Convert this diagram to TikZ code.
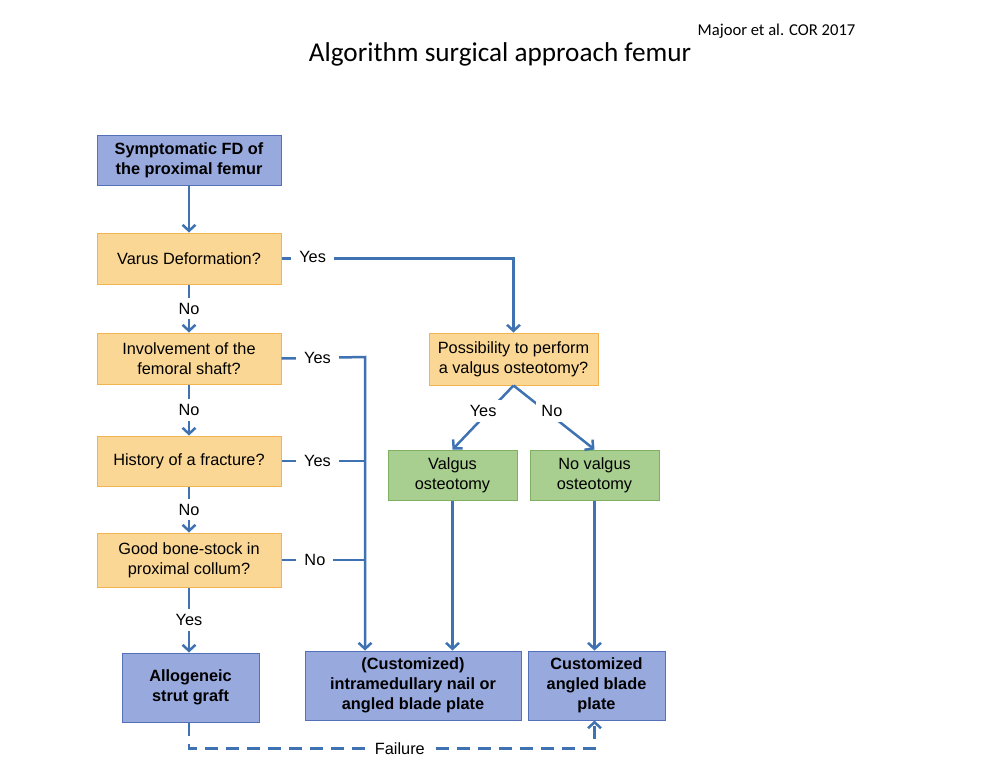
\documentclass[tikz,border=0pt]{standalone}
\usepackage{fontspec}
\setmainfont{Liberation Sans}
\newfontfamily\titlefont{Carlito}
\usetikzlibrary{arrows.meta}
\usetikzlibrary{calc}

\definecolor{flowblue}{HTML}{3F72B3}
\definecolor{endfill}{HTML}{98A9DE}
\definecolor{endline}{HTML}{5470B8}
\definecolor{askfill}{HTML}{FAD794}
\definecolor{askline}{HTML}{F2B451}
\definecolor{optfill}{HTML}{A9CF90}
\definecolor{optline}{HTML}{7FB061}

\begin{document}
\begin{tikzpicture}[x=1pt,y=-1pt,
  every node/.style={font=\fontsize{16.3}{20}\selectfont},
  box/.style={draw,line width=1pt,align=center,inner sep=0pt},
  endbox/.style={box,fill=endfill,draw=endline,font=\bfseries\fontsize{16.3}{20}\selectfont},
  askbox/.style={box,fill=askfill,draw=askline},
  optbox/.style={box,fill=optfill,draw=optline},
  flow/.style={draw=flowblue,line width=2.5pt,-{Straight Barb[length=6pt,width=13pt]}},
  link/.style={draw=flowblue,line width=2.5pt},
  lbl/.style={fill=white,inner xsep=8pt,inner ysep=5pt}]

\useasboundingbox (0,0) rectangle (1000,777);

% titles
\node[font=\titlefont\fontsize{27.2}{32}\selectfont] (title) at (500,54) {Algorithm surgical approach femur};
\node[font=\titlefont\fontsize{16.6}{20}\selectfont] (cite) at (776.5,31) {Majoor et al. COR 2017};

% left column
\node[endbox,minimum width=184pt,minimum height=50pt] (sympt) at (189,160) {Symptomatic FD of\\the proximal femur};
\node[askbox,minimum width=184pt,minimum height=51pt] (varus) at (189,258.5) {Varus Deformation?};
\node[askbox,minimum width=184pt,minimum height=51pt] (invol) at (189,358.5) {Involvement of the\\femoral shaft?};
\node[askbox,minimum width=184pt,minimum height=50pt] (hist) at (189,461) {History of a fracture?};
\node[askbox,minimum width=184pt,minimum height=54pt] (stock) at (189,560) {Good bone-stock in\\proximal collum?};
\node[endbox,minimum width=137pt,minimum height=69pt] (graft) at (190.5,687.5) {Allogeneic\\strut graft};

% right part
\node[askbox,minimum width=169pt,minimum height=52pt] (valgq) at (513.5,359) {Possibility to perform\\a valgus osteotomy?};
\node[optbox,minimum width=129pt,minimum height=50pt] (valg) at (452.5,475) {Valgus\\osteotomy};
\node[optbox,minimum width=129pt,minimum height=50pt] (novalg) at (594.5,475) {No valgus\\osteotomy};
\node[endbox,minimum width=216pt,minimum height=69pt] (nail) at (413,685.5) {(Customized)\\intramedullary nail or\\angled blade plate};
\node[endbox,minimum width=137pt,minimum height=69pt] (blade) at (596.5,685.5) {Customized\\angled blade\\plate};

\coordinate (trunk) at (365,357);
\coordinate (fail) at ($(stock.south |- graft.south)+(0,26)$);

% connectors
\draw[flow] (sympt) -- (varus);
\draw[flow] (varus) -- node[lbl]{No} (invol);
\draw[flow] (invol) -- node[lbl]{No} (hist);
\draw[flow] (hist) -- node[lbl]{No} (stock);
\draw[flow] (stock) -- node[lbl]{Yes} (stock.south |- graft.north);

\draw[flow] (varus.east) -| node[lbl,pos=0.067,yshift=2pt]{Yes} (valgq.north);
\draw[flow] (invol.east) -- node[lbl,pos=0.43]{Yes} (trunk) -- (trunk |- nail.north);
\draw[link] (hist.east) -- node[lbl,pos=0.43]{Yes} (hist.east -| trunk);
\draw[link] (stock.east) -- node[lbl,pos=0.4]{No} (stock.east -| trunk);

\draw[flow] (valgq.south) -- node[lbl,inner xsep=5pt,pos=0.4,xshift=-6pt]{Yes} (valg.north);
\draw[flow] (valgq.south) -- node[lbl,inner xsep=5pt,pos=0.4,xshift=6pt]{No} (novalg.north);
\draw[flow] (valg) -- (valg.south |- nail.north);
\draw[flow] (novalg) -- (novalg.south |- blade.north);

\draw[flow,dash pattern=on 13pt off 8pt] (stock.south |- graft.south) -- (fail) -| node[lbl,pos=0.26]{Failure} (novalg.south |- blade.south);

\end{tikzpicture}
\end{document}
